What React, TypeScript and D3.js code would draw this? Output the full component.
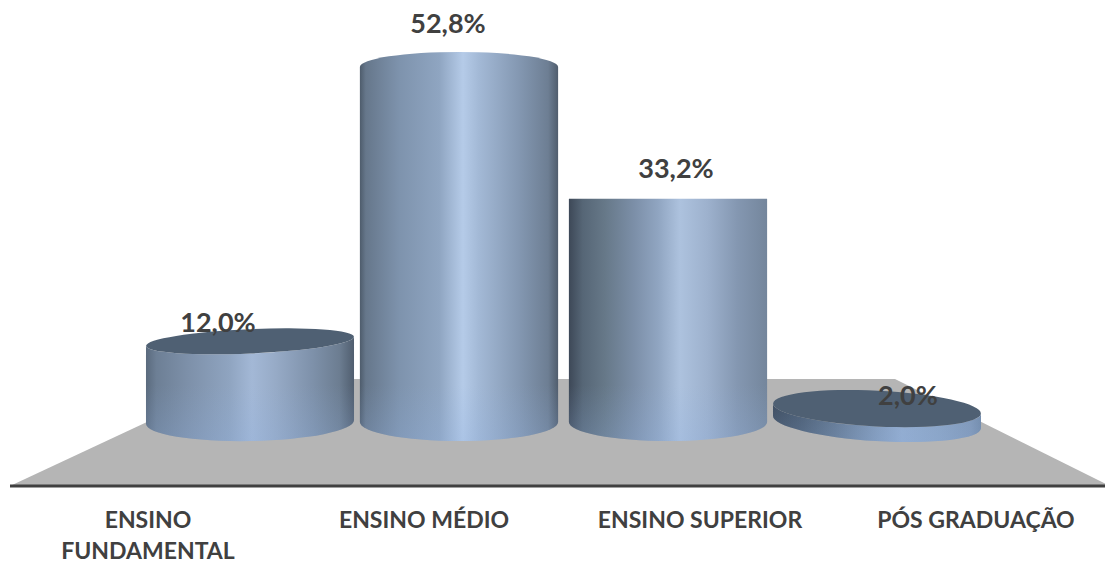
import React from "react";
import * as d3 from "d3";

const width = 1105;
const height = 563;

// Chart data
const categories = ["ENSINO FUNDAMENTAL", "ENSINO MÉDIO", "ENSINO SUPERIOR", "PÓS GRADUAÇÃO"];
const values = [12.0, 52.8, 33.2, 2.0];
const valueLabels = ["12,0%", "52,8%", "33,2%", "2,0%"];
const axisLabelLines = [["ENSINO", "FUNDAMENTAL"], ["ENSINO MÉDIO"], ["ENSINO SUPERIOR"], ["PÓS GRADUAÇÃO"]];

// Layout of the perspective view
const eyeLevel = 198;
const baseRim = 422;
const floorBack = 379;
const floorFront = 486;
const capTilt = [-2.5, 0, 0, 2.8];
const baseTilt = [-1, 0, 0, 3.5];
const labelDx = [-32, -11, 8, 31];
const labelDy = [-9, -34, -21, -4];

// Cylinder shading per column: light comes from just right of centre
const shadeStops: [number, string][][] = [
  [[0, "#5a6a7d"], [0.05, "#6d7f95"], [0.2, "#7d90a9"], [0.4, "#8fa4c0"], [0.51, "#a3b8d6"], [0.62, "#97abc7"], [0.8, "#7e91aa"], [0.93, "#6c7d91"], [1, "#505e6f"]],
  [[0, "#4e5c6c"], [0.03, "#66778b"], [0.2, "#7e93ad"], [0.4, "#8fa5c1"], [0.52, "#b5cbe8"], [0.6, "#a3b9d6"], [0.8, "#8498b2"], [0.95, "#6d7e93"], [1, "#505d6d"]],
  [[0, "#3d4857"], [0.07, "#566676"], [0.18, "#667888"], [0.33, "#7c8fa8"], [0.45, "#90a5c1"], [0.56, "#adc2de"], [0.7, "#9db1cd"], [0.85, "#8497b1"], [1, "#74869c"]],
  [[0, "#3a4859"], [0.12, "#45566a"], [0.3, "#60748c"], [0.5, "#8199b8"], [0.62, "#93acce"], [0.8, "#8aa3c3"], [0.95, "#7f96b5"], [1, "#7088a6"]],
];

const x = d3.scaleBand<string>().domain(categories).range([145.5, 981.5]);
const y = d3.scaleLinear().domain([0, 52.8]).range([baseRim, 67]);
const labelX = d3.scalePoint<string>().domain(categories).range([148, 976]);

// Vertical squash of a rim: rims get flatter as they near eye level
const rimRy = (py: number) => (py < eyeLevel ? 0.115 : 0.085) * Math.abs(py - eyeLevel);

// Columns farther from the centre look slightly wider
const barWidth = (cx: number) => 197 + 11 * Math.pow(Math.abs(cx - 563.5) / 313, 2);

const slope = (deg: number, run: number) => Math.tan((deg * Math.PI) / 180) * run;

export default function App() {
  const floor = d3.line()([
    [10, floorFront],
    [239, floorBack],
    [895, floorBack],
    [1110, floorFront],
  ]) + "Z";

  return (
    <svg
      width={width}
      height={height}
      viewBox={`0 0 ${width} ${height}`}
      style={{ position: "absolute", left: 0, top: 0, display: "block", background: "#fff" }}
      fontFamily="Lato, 'Open Sans', sans-serif"
    >
      <defs>
        {categories.map((c, i) => (
          <linearGradient key={c} id={`cyl${i}`} x1="0" x2="1" y1="0" y2="0">
            {shadeStops[i].map(([offset, color]) => (
              <stop key={offset} offset={offset} stopColor={color} />
            ))}
          </linearGradient>
        ))}
        {/* Soft blue bounce from the floor, fixed in page space so every column shares it */}
        <linearGradient id="floorGlow" gradientUnits="userSpaceOnUse" x1="0" x2="0" y1={385} y2={441}>
          <stop offset="0" stopColor="#8fb0e0" stopOpacity={0} />
          <stop offset="1" stopColor="#8fb0e0" stopOpacity={0.25} />
        </linearGradient>
      </defs>

      <path d={floor} fill="#b5b5b5" />
      <line x1={10} x2={1105} y1={floorFront} y2={floorFront} stroke="#404040" strokeWidth={3} />

      {categories.map((c, i) => {
        const cx = (x(c) as number) + x.bandwidth() / 2;
        const rx = barWidth(cx) / 2;
        const rimY = y(values[i]);
        const ry = rimRy(rimY);
        const baseRy = rimRy(baseRim);
        const above = rimY < eyeLevel;
        // Rims tilt with the view, the column sides stay vertical
        const rise = slope(capTilt[i], rx);
        const baseRise = slope(baseTilt[i], rx);
        const xl = cx - rx;
        const xr = cx + rx;
        const sweep = above ? 1 : 0;
        const body =
          `M${xl},${rimY - rise}` +
          `A${rx},${ry} ${capTilt[i]} 0 ${sweep} ${xr},${rimY + rise}` +
          `L${xr},${baseRim + baseRise}` +
          `A${rx},${baseRy} ${baseTilt[i]} 0 1 ${xl},${baseRim - baseRise}Z`;
        return (
          <g key={c}>
            <path d={body} fill={`url(#cyl${i})`} />
            <path d={body} fill="url(#floorGlow)" />
            {!above && (
              <ellipse
                cx={cx}
                cy={rimY}
                rx={rx}
                ry={ry}
                fill="#4f6073"
                transform={`rotate(${capTilt[i]} ${cx} ${rimY})`}
              />
            )}
          </g>
        );
      })}

      {categories.map((c, i) => {
        const cx = (x(c) as number) + x.bandwidth() / 2;
        return (
          <text
            key={c}
            x={cx + labelDx[i]}
            y={y(values[i]) + labelDy[i]}
            textAnchor="middle"
            fontSize={27}
            fontWeight={700}
            fill="#404040"
          >
            {valueLabels[i]}
          </text>
        );
      })}

      {categories.map((c, i) => (
        <text key={c} textAnchor="middle" fontSize={23} fontWeight={700} fill="#404040">
          {axisLabelLines[i].map((line, k) => (
            <tspan key={line} x={labelX(c)} y={528 + k * 31}>
              {line}
            </tspan>
          ))}
        </text>
      ))}
    </svg>
  );
}
